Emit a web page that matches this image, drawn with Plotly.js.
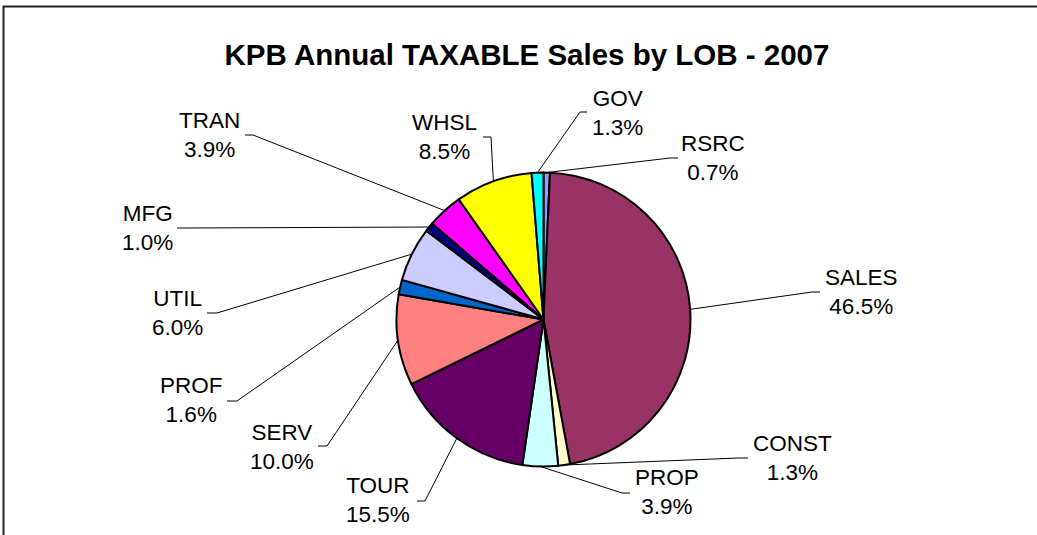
<!DOCTYPE html>
<html>
<head>
<meta charset="utf-8">
<script src="https://cdn.plot.ly/plotly-3.0.1.min.js"></script>
<style>
  body { margin: 0; background: #fff; }
  #chart { width: 1037px; height: 535px; }
</style>
</head>
<body>
<div id="chart"></div>
<script>
// data, clockwise from 12 o'clock
const lobs = ['RSRC', 'SALES', 'CONST', 'PROP', 'TOUR', 'SERV', 'PROF', 'UTIL', 'MFG', 'TRAN', 'WHSL', 'GOV'];
const shares = [0.7, 46.5, 1.3, 3.9, 15.5, 10.0, 1.6, 6.0, 1.0, 3.9, 8.5, 1.3];
const sliceColors = ['#9999FF', '#993366', '#FFFFCC', '#CCFFFF', '#660066', '#FF8080',
                     '#0066CC', '#CCCCFF', '#000080', '#FF00FF', '#FFFF00', '#00FFFF'];

// label layout in px: [text x, text y (block middle), elbow x, elbow y, tick end x]
const labelPos = [
    [713, 158, 670, 158, 678],
    [861, 292, 812, 292, 820],
    [792, 458, 738, 458, 748],
    [667, 492, 622, 493, 630],
    [378, 500, 425, 501, 417],
    [282, 447, 327, 446, 318],
    [191, 400, 237, 401, 227],
    [177, 313, 217, 313, 207],
    [147, 228, 187, 228, 177],
    [209, 135, 253, 135, 245],
    [444, 137, 491, 137, 483],
    [617, 113, 580, 112, 587]
];

const W = 1037, H = 535;
const pie = { cx: 543.5, cy: 319.5, r: 147 }; // px

const px = x => x / W;
const py = y => 1 - y / H;

const total = shares.reduce((a, b) => a + b, 0);
let cum = 0;
const annotations = [];
const shapes = [];

shares.forEach((v, i) => {
    const mid = (cum + v / 2) / total * 2 * Math.PI;
    cum += v;
    const ex = pie.cx + pie.r * Math.sin(mid);
    const ey = pie.cy - pie.r * Math.cos(mid);
    const p = labelPos[i];
    shapes.push({
        type: 'path', xref: 'paper', yref: 'paper',
        path: `M ${px(ex)},${py(ey)} L ${px(p[2])},${py(p[3])} L ${px(p[4])},${py(p[3])}`,
        line: { color: '#000', width: 1 }
    });
    annotations.push({
        xref: 'paper', yref: 'paper',
        x: px(p[0]), y: py(p[1]),
        xanchor: 'center', yanchor: 'middle',
        text: `${lobs[i]}<br>${v.toFixed(1)}%`,
        showarrow: false,
        font: { size: 22.5, color: '#000', family: 'Liberation Sans, Arial, sans-serif' }
    });
});

// chart area frame (only top and left edges fall inside the picture)
shapes.push({
    type: 'path', xref: 'paper', yref: 'paper',
    path: `M ${px(3.5)},-0.05 L ${px(3.5)},${py(6.5)} L 1.05,${py(6.5)}`,
    line: { color: '#222', width: 2 }
});

const trace = {
    type: 'pie',
    labels: lobs,
    values: shares,
    sort: false,
    direction: 'clockwise',
    rotation: 0,
    textinfo: 'none',
    hoverinfo: 'none',
    showlegend: false,
    marker: { colors: sliceColors, line: { color: '#000', width: 2 } },
    domain: {
        x: [px(pie.cx - pie.r), px(pie.cx + pie.r)],
        y: [py(pie.cy + pie.r), py(pie.cy - pie.r)]
    }
};

const layout = {
    width: W,
    height: H,
    margin: { l: 0, r: 0, t: 0, b: 0 },
    paper_bgcolor: '#fff',
    title: {
        text: '<b>KPB Annual TAXABLE Sales by LOB - 2007</b>',
        x: 527 / W, xanchor: 'center',
        y: 1 - 55 / H, yanchor: 'middle', yref: 'container',
        font: { size: 29.5, color: '#000', family: 'Liberation Sans, Arial, sans-serif' }
    },
    annotations: annotations,
    shapes: shapes
};

Plotly.newPlot('chart', [trace], layout, { staticPlot: true, displayModeBar: false });
</script>
</body>
</html>
